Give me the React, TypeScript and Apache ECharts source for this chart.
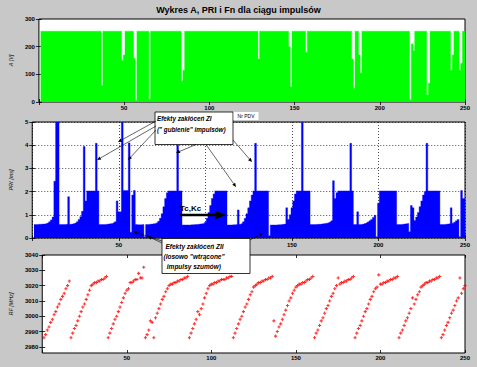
import React, { useEffect, useRef } from "react";
import * as echarts from "echarts";

// ---------------- DATA ----------------
const pulseCount = 250;
const pulseNumbers = Array.from({ length: pulseCount }, (_, i) => i + 1);
const xTickValues = [50, 100, 150, 200, 250];
const rfTickValues = [2980, 2990, 3000, 3010, 3020, 3030, 3040];

const titleText = "Wykres A, PRI i Fn dla ciągu impulsów";

// Amplitude A [V]
const amplitudeV = [
  256, 256, 256, 256, 256, 256, 256, 256, 256, 256,
  256, 256, 256, 256, 256, 256, 256, 256, 256, 256,
  256, 256, 256, 256, 256, 256, 256, 256, 256, 256,
  256, 256, 256, 256, 256, 256, 60, 256, 256, 256,
  256, 256, 256, 256, 256, 256, 256, 256, 150, 170,
  256, 256, 256, 256, 256, 158, 5, 256, 256, 256,
  256, 256, 256, 256, 10, 256, 256, 256, 256, 256,
  256, 256, 256, 256, 256, 256, 256, 256, 256, 256,
  256, 256, 256, 75, 115, 256, 256, 256, 256, 256,
  256, 256, 256, 256, 256, 256, 256, 256, 256, 256,
  256, 256, 256, 256, 256, 256, 256, 256, 256, 256,
  256, 256, 256, 256, 256, 256, 256, 256, 256, 256,
  256, 256, 256, 256, 256, 256, 256, 256, 155, 256,
  256, 256, 256, 256, 256, 256, 256, 256, 256, 256,
  256, 256, 256, 256, 256, 256, 200, 55, 256, 256,
  256, 256, 256, 256, 256, 256, 180, 256, 256, 256,
  256, 256, 256, 256, 256, 256, 256, 256, 256, 256,
  256, 256, 256, 256, 256, 256, 256, 256, 256, 256,
  256, 256, 256, 155, 50, 256, 256, 170, 105, 256,
  256, 256, 256, 256, 256, 256, 256, 256, 256, 256,
  256, 256, 256, 256, 256, 256, 256, 256, 256, 256,
  256, 256, 256, 256, 256, 256, 256, 8, 210, 185,
  256, 256, 256, 256, 256, 256, 256, 25, 68, 256,
  256, 256, 256, 256, 256, 256, 256, 256, 256, 256,
  256, 115, 170, 256, 256, 256, 115, 140, 256, 256,
];

// Pulse repetition interval PRI [ms]
const priMs = [
  0.58, 0.58, 0.58, 0.59, 0.59, 0.6, 0.6, 0.62, 0.65, 0.7,
  0.78, 0.9, 2.45, 5, 5, 0.58, 0.58, 0.58, 0.58, 0.59,
  1.78, 0.59, 0.6, 0.62, 0.65, 0.7, 0.8, 0.92, 1.15, 3.94,
  1.6, 2.03, 2.03, 2.03, 2.03, 2.03, 4.08, 2.03, 0.58, 0.58,
  0.58, 0.58, 0.59, 0.6, 0.61, 0.63, 0.66, 0.7, 1.6, 1.13,
  1.13, 5, 2.05, 2.05, 2.05, 4.1, 0.25, 1.85, 2.05, 0.58,
  0.57, 0.57, 0.57, 0.58, 0.05, 0.58, 0.58, 0.59, 0.6, 0.61,
  0.63, 0.66, 0.72, 0.85, 1.05, 1.35, 1.7, 1.95, 2.03, 2.03,
  2.03, 2.03, 2.03, 4.0, 2.03, 2.03, 0.56, 0.56, 0.56, 0.56,
  0.56, 0.57, 0.57, 0.58, 0.58, 0.59, 0.6, 0.61, 0.63, 0.68,
  0.85, 1.1, 1.4, 1.7, 1.9, 2.03, 2.03, 2.03, 2.03, 2.03,
  2.03, 2.03, 0.56, 0.56, 0.56, 0.57, 0.57, 0.58, 1.21, 0.59,
  0.62, 0.7, 0.85, 1.05, 1.3, 1.6, 1.85, 2.03, 4.08, 2.03,
  2.03, 2.03, 2.03, 2.03, 2.03, 2.03, 0.1, 0.56, 0.56, 0.56,
  0.56, 0.57, 0.57, 0.58, 0.59, 0.6, 1.3, 0.8, 1.0, 1.3,
  1.6, 1.9, 2.03, 2.03, 2.03, 5, 2.03, 2.03, 2.03, 2.03,
  0.58, 0.58, 0.58, 0.58, 0.59, 0.59, 0.6, 0.61, 0.62, 0.64,
  0.66, 0.69, 0.74, 2.47, 1.7, 1.95, 2.03, 2.03, 2.03, 2.03,
  2.03, 2.03, 2.03, 4.08, 2.03, 0.58, 0.58, 1.13, 0.58, 0.58,
  0.6, 0.62, 0.65, 0.69, 0.74, 0.8, 0.88, 0.98, 0.05, 1.5,
  2.03, 2.03, 2.03, 2.03, 2.03, 2.03, 2.03, 2.03, 2.03, 2.03,
  0.58, 0.58, 0.58, 0.59, 0.6, 0.61, 0.63, 0.27, 1.4, 1.3,
  0.75, 0.9, 1.1, 1.35, 1.6, 1.85, 2.0, 4.08, 2.03, 2.03,
  2.03, 2.03, 2.03, 2.03, 2.03, 0.58, 0.58, 0.58, 0.59, 0.6,
  0.61, 1.3, 0.64, 0.68, 0.74, 0.8, 0.05, 2.05, 1.7, 1.7,
];

// Carrier frequency RF [MHz]
const rfMHz = [
  2986, 2988, 2991, 2993, 2996, 2998, 3001, 3003, 3006, 3008,
  3011, 3013, 3015, 3018, 3020, 3023,
  2986, 2989, 2992, 2994, 2997, 3000, 3003, 3006, 3008, 3011,
  3014, 3017, 3020, 3021, 3022, 3022, 3023, 3023, 3024, 3024, 3025, 3026,
  2986, 2989, 2992, 2995, 2998, 3000, 3003, 3006, 3009, 3012,
  3015, 3017, 3018, 3022, 3022, 3023, 3024, 3024, 3028, 3025, 3025, 3032,
  2986, 2988, 2991, 2997, 2996, 2986, 2999, 3002, 3005, 3008,
  3011, 3013, 3016, 3018, 3020, 3021, 3021, 3022, 3022, 3023,
  3023, 3024, 3024, 3025, 3025, 3026,
  2986, 2989, 2992, 2995, 2998, 3003, 3001, 3005, 3008, 3012,
  3015, 3018, 3020, 3021, 3021, 3022, 3022, 3023, 3023, 3024,
  3024, 3024, 3025, 3025, 3026, 3026,
  2986, 2989, 2992, 2995, 2998, 3000, 3003, 3006, 3008, 3011,
  3014, 3016, 3019, 3020, 3021, 3022, 3022, 3023, 3023, 3024,
  3024, 3025, 3025, 3026, 2997,
  2987, 2990, 2993, 2995, 2998, 3001, 3004, 3007, 3010, 3012,
  3015, 3017, 3019, 3020, 3021, 3021, 3022, 3022, 3023, 3024,
  3024, 3025, 3026,
  2986, 2989, 2991, 2994, 2997, 2999, 3002, 3005, 3007, 3010,
  3013, 3015, 3018, 3020, 3025, 3021, 3022, 3022, 3023, 3023,
  3024, 3024, 3025, 3026,
  2986, 2989, 2992, 2994, 2997, 3000, 3003, 3005, 3008, 3011,
  3013, 3016, 3018, 3019, 3027, 3021, 3021, 3022, 3022, 3023,
  3023, 3024, 3024, 3025, 3025, 3026,
  2986, 2989, 2991, 2994, 2997, 2999, 3002, 3005, 3012, 3008,
  3011, 3014, 3016, 3019, 3020, 3021, 3022, 3022, 3023, 3023,
  3024, 3024, 3025, 3025, 3026,
  2986, 2988, 2991, 2994, 2996, 2999, 3002, 3004, 3007, 3010,
  3012, 3025, 3015, 3018, 3020,
];

// ---------------- STYLE / LAYOUT ----------------
const FONT = "'Liberation Sans', Arial, Helvetica, sans-serif";
const BG = "#c8c8c8";
const GRIDS = [
  { left: 31, top: 19, width: 434, height: 83 },
  { left: 31, top: 122, width: 434, height: 116 },
  { left: 31, top: 255, width: 434, height: 98 },
];
const LABEL_MARGINS = [3, 4, 2];

function arrow(x1: number, y1: number, x2: number, y2: number, headLen = 4, headW = 1.8, lw = 0.6): any[] {
  const dx = x2 - x1;
  const dy = y2 - y1;
  const len = Math.hypot(dx, dy);
  const ux = dx / len;
  const uy = dy / len;
  const bx = x2 - ux * headLen;
  const by = y2 - uy * headLen;
  return [
    { type: "line", z: 100, shape: { x1, y1, x2: bx, y2: by }, style: { stroke: "#000", lineWidth: lw } },
    {
      type: "polygon",
      z: 100,
      shape: { points: [[x2, y2], [bx - uy * headW, by + ux * headW], [bx + uy * headW, by - ux * headW]] },
      style: { fill: "#000" },
    },
  ];
}

function txt(text: string, x: number, y: number, size: number, opts: any = {}): any {
  return {
    type: "text",
    z: 101,
    x,
    y,
    style: {
      text,
      fill: "#000",
      fontSize: size,
      fontFamily: FONT,
      fontWeight: opts.weight || "bold",
      fontStyle: opts.style || "normal",
      align: opts.align || "left",
      textAlign: opts.align || "left",
      verticalAlign: "middle",
      textVerticalAlign: "middle",
    },
  };
}

// MATLAB-style "bar(..., 1)" look: contiguous unit-wide columns as one stepped filled area
function stepBars(name: string, idx: number, values: number[], color: string): any {
  return {
    type: "line",
    name,
    xAxisIndex: idx,
    yAxisIndex: idx,
    step: "middle",
    symbol: "none",
    showSymbol: false,
    clip: true,
    lineStyle: { width: 0.4, color },
    areaStyle: { color, opacity: 1, origin: "start" },
    data: pulseNumbers.map((p, i) => [p, values[i]]),
  };
}

export default function App() {
  const ref = useRef<HTMLDivElement>(null);

  useEffect(() => {
    if (!ref.current) return;
    const chart = echarts.init(ref.current, undefined, { renderer: "svg" });

    const tickStyle = { show: true, inside: true, length: 3, lineStyle: { color: "#000", width: 0.8 } };
    const dotted = { show: true, lineStyle: { color: "#000", width: 0.7, type: [1, 2] } };

    const xAxesBottom = GRIDS.map((_, i) => ({
      type: "value",
      gridIndex: i,
      position: "bottom",
      min: 0,
      max: 250,
      interval: 50,
      axisLine: { show: false },
      axisTick: tickStyle,
      axisLabel: {
        show: true,
        // the "100" label of the middle plot is covered by the annotation box in the reference
        formatter: (v: number) => (v === 0 || (i === 1 && v === 100) ? "" : String(v)),
        fontSize: 6,
        fontWeight: "bold",
        fontFamily: FONT,
        color: "#000",
        margin: LABEL_MARGINS[i],
        showMaxLabel: true,
      },
      splitLine: i === 1 ? dotted : { show: false },
    }));
    const xAxesTop = GRIDS.map((_, i) => ({
      type: "value",
      gridIndex: i,
      position: "top",
      min: 0,
      max: 250,
      interval: 50,
      axisLine: { show: false },
      axisTick: tickStyle,
      axisLabel: { show: false },
      splitLine: { show: false },
    }));

    const yRanges: any[] = [
      { min: 0, max: 300, interval: 100 },
      { min: 0, max: 5, interval: 1 },
      { min: 2976, max: 3040 },
    ];
    const yNames = ["A [V]", "PRI [ms]", "RF [MHz]"];
    const yNameGaps = [19, 13, 20];

    const yAxesLeft = GRIDS.map((_, i) => ({
      type: "value",
      gridIndex: i,
      position: "left",
      ...yRanges[i],
      name: yNames[i],
      nameLocation: "middle",
      nameRotate: 90,
      nameGap: yNameGaps[i],
      nameTextStyle: { fontSize: 5.5, fontFamily: FONT, color: "#000", fontStyle: "italic" },
      axisLine: { show: false },
      axisTick: i === 2 ? { ...tickStyle, customValues: rfTickValues } : tickStyle,
      axisLabel: {
        show: true,
        formatter: (v: number) => String(v),
        fontSize: 6,
        fontWeight: "bold",
        fontFamily: FONT,
        color: "#000",
        margin: 4,
        ...(i === 2 ? { customValues: rfTickValues } : {}),
      },
      splitLine: i === 1 ? dotted : { show: false },
    }));
    const yAxesRight = GRIDS.map((_, i) => ({
      type: "value",
      gridIndex: i,
      position: "right",
      ...yRanges[i],
      axisLine: { show: false },
      axisTick: i === 2 ? { ...tickStyle, customValues: rfTickValues } : tickStyle,
      axisLabel: { show: false },
      splitLine: { show: false },
    }));

    const graphics: any[] = [];
    // Box 1: pulse loss effects
    graphics.push({
      type: "rect",
      z: 99,
      shape: { x: 155, y: 112, width: 78, height: 32.5 },
      style: { fill: "#fff", stroke: "#000", lineWidth: 0.8 },
    });
    graphics.push({ type: "rect", z: 99, shape: { x: 233.5, y: 112, width: 25, height: 8 }, style: { fill: "#fff" } });
    graphics.push(txt("Nr PDV", 246, 116, 5, { weight: "normal", align: "center" }));
    graphics.push(txt("Efekty zakłóceń ZI", 157, 118.5, 6.3, { style: "italic" }));
    graphics.push(txt("(\" gubienie\" impulsów)", 157, 129, 6.3, { style: "italic" }));
    graphics.push(...arrow(156, 121, 118, 142));
    graphics.push(...arrow(156, 126, 97, 160));
    graphics.push(...arrow(156, 130, 128, 160));
    graphics.push(...arrow(196, 144.5, 176, 153));
    graphics.push(...arrow(206, 144.5, 236, 187));
    graphics.push(...arrow(233, 140, 252, 162));

    // Tc,Kc arrow
    graphics.push(txt("Tc,Kc", 180, 208, 8));
    graphics.push({
      type: "line",
      z: 100,
      shape: { x1: 180, y1: 215, x2: 217, y2: 215 },
      style: { stroke: "#000", lineWidth: 2.5 },
    });
    graphics.push({
      type: "polygon",
      z: 100,
      shape: { points: [[215, 210.5], [226, 215], [215, 219.5]] },
      style: { fill: "#000" },
    });

    // Box 2: noise pulse effects
    graphics.push(...arrow(162, 241, 133, 231.5));
    graphics.push(...arrow(162, 243, 148, 236.5));
    graphics.push(...arrow(250, 240, 263, 233));
    graphics.push({
      type: "rect",
      z: 99,
      shape: { x: 162, y: 238.5, width: 88, height: 35 },
      style: { fill: "#fff", stroke: "#000", lineWidth: 0.8 },
    });
    graphics.push(txt("Efekty zakłóceń ZII", 165.5, 246, 6.5, { style: "italic" }));
    graphics.push(txt("(losowo \"wtrącone\"", 163.5, 256.5, 6.5, { style: "italic" }));
    graphics.push(txt(" impulsy szumów)", 165, 266, 6.5, { style: "italic" }));

    const option: any = {
      animation: false,
      backgroundColor: BG,
      title: {
        text: titleText,
        left: "center",
        top: 5,
        padding: 0,
        textStyle: { fontSize: 9, fontWeight: "bold", fontFamily: FONT, color: "#000" },
      },
      grid: GRIDS.map((g) => ({
        ...g,
        show: true,
        backgroundColor: "#fff",
        borderColor: "#000",
        borderWidth: 1,
        containLabel: false,
      })),
      xAxis: [...xAxesBottom, ...xAxesTop],
      yAxis: [...yAxesLeft, ...yAxesRight],
      series: [
        stepBars("A", 0, amplitudeV, "#00ff00"),
        stepBars("PRI", 1, priMs, "#0000ff"),
        {
          type: "scatter",
          name: "RF",
          xAxisIndex: 2,
          yAxisIndex: 2,
          symbol: "path://M1,0H2V1H3V2H2V3H1V2H0V1H1Z",
          symbolSize: 3.2,
          itemStyle: { color: "#ff0000" },
          data: pulseNumbers.map((p, i) => [p, rfMHz[i]]),
        },
      ],
      graphic: graphics,
    };

    chart.setOption(option);
    return () => chart.dispose();
  }, []);

  return (
    <div
      ref={ref}
      style={{ position: "fixed", left: 0, top: 0, width: 477, height: 367, background: BG }}
    />
  );
}
